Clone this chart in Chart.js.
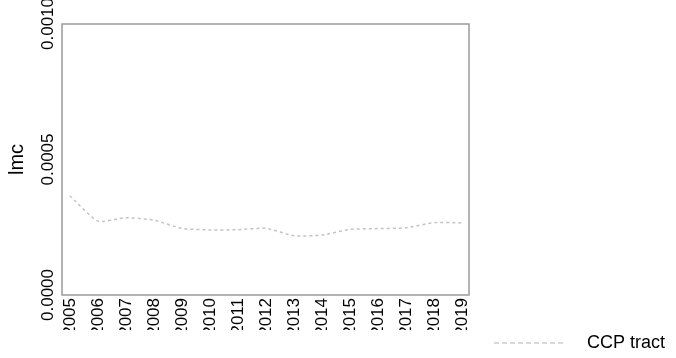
<!DOCTYPE html>
<html>
<head>
<meta charset="utf-8">
<script src="https://cdn.jsdelivr.net/npm/chart.js@4.4.0/dist/chart.umd.min.js"></script>
<style>
  html, body { margin: 0; padding: 0; background: #fff; }
  #wrap { width: 676px; height: 358px; }
</style>
</head>
<body>
<div id="wrap"><canvas id="lmcChart"></canvas></div>
<script>
// values
const years = [2005, 2006, 2007, 2008, 2009, 2010, 2011, 2012, 2013, 2014, 2015, 2016, 2017, 2018, 2019];
const ccpTract = [0.000366, 0.000273, 0.000285, 0.000276, 0.000246, 0.000240, 0.000241, 0.000246,
                  0.000219, 0.000221, 0.000242, 0.000245, 0.000248, 0.000267, 0.000266];
const yTicks = [0, 0.0005, 0.001];
const seriesName = 'CCP tract';
const yTitle = 'lmc';

const FONT = 'Liberation Sans, Arial, sans-serif';
const LINE = '#c4c4c4';

// legend swatch: dashed line with some blank space before the text
function legendSwatch() {
    const c = document.createElement('canvas');
    c.width = 84;
    c.height = 4;
    const g = c.getContext('2d');
    g.strokeStyle = '#b4b4b4';
    g.lineWidth = 1.2;
    g.setLineDash([5, 3]);
    g.beginPath();
    g.moveTo(0, 2);
    g.lineTo(72, 2);
    g.stroke();
    return c;
}

// grey frame round the plot area
const framePlugin = {
    id: 'frame',
    afterDraw(chart) {
        const a = chart.chartArea;
        const ctx = chart.ctx;
        ctx.save();
        ctx.strokeStyle = '#9a9a9a';
        ctx.lineWidth = 1.5;
        ctx.strokeRect(a.left, a.top, a.right - a.left, a.bottom - a.top);
        ctx.restore();
    }
};

const swatch = legendSwatch();

new Chart(document.getElementById('lmcChart'), {
    type: 'line',
    data: {
        datasets: [{
            label: seriesName,
            data: years.map((y, i) => ({ x: y, y: ccpTract[i] })),
            borderColor: LINE,
            borderWidth: 1.5,
            borderDash: [3, 3],
            pointRadius: 0,
            pointStyle: swatch,
            tension: 0.2,
            fill: false
        }]
    },
    options: {
        responsive: true,
        maintainAspectRatio: false,
        animation: false,
        layout: { padding: { top: 24, right: 7, bottom: 4, left: 0 } },
        plugins: {
            legend: {
                position: 'bottom',
                align: 'end',
                maxHeight: 24,
                labels: {
                    usePointStyle: true,
                    pointStyleWidth: 84,
                    padding: 4,
                    color: '#000',
                    font: { family: FONT, size: 18 }
                }
            },
            tooltip: { enabled: false }
        },
        scales: {
            x: {
                type: 'linear',
                min: 2004.72,
                max: 2019.25,
                afterBuildTicks: s => { s.ticks = years.map(v => ({ value: v })); },
                afterFit: s => { s.height = 35; },
                grid: { display: false, drawTicks: false },
                border: { display: false },
                ticks: {
                    minRotation: 90,
                    maxRotation: 90,
                    autoSkip: false,
                    padding: 3,
                    color: '#000',
                    font: { family: FONT, size: 17 },
                    callback: v => String(v)
                }
            },
            y: {
                min: 0,
                max: 0.001,
                afterBuildTicks: s => { s.ticks = yTicks.map(v => ({ value: v })); },
                afterFit: s => { s.width = 62; },
                grid: { display: false, drawTicks: false },
                border: { display: false },
                title: {
                    display: true,
                    text: yTitle,
                    color: '#000',
                    font: { family: FONT, size: 20 },
                    padding: { top: 5, bottom: 0 }
                },
                ticks: {
                    minRotation: 90,
                    maxRotation: 90,
                    crossAlign: 'center',
                    padding: -12.5,
                    color: '#000',
                    font: { family: FONT, size: 17 },
                    callback: v => v.toFixed(4)
                }
            },
            pad: {
                position: 'right',
                afterFit: s => { s.width = 200; },
                grid: { display: false, drawTicks: false },
                border: { display: false },
                ticks: { display: false }
            }
        }
    },
    plugins: [framePlugin]
});
</script>
</body>
</html>
